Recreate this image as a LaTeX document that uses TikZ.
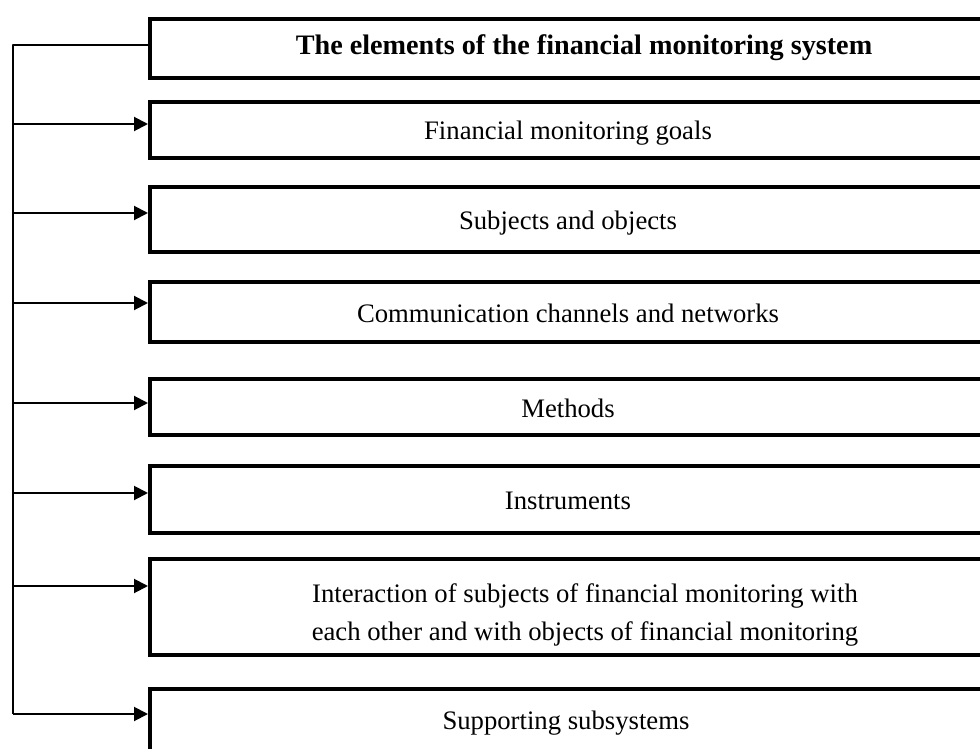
\documentclass[tikz,border=0pt]{standalone}
\usepackage{fontspec}
\setmainfont{Liberation Serif}
\usetikzlibrary{arrows.meta}
\begin{document}
\begin{tikzpicture}[x=1pt,y=-1pt,
  elbox/.style={draw,line width=4pt,anchor=north west,minimum width=836pt,inner sep=0pt},
  lbl/.style={inner sep=0pt,anchor=base,align=center,font=\fontsize{26.7}{38}\selectfont},
  conn/.style={line width=2pt},
  arr/.style={line width=2pt,-{Triangle[length=14pt,width=14pt]}}]
\useasboundingbox (0,0) rectangle (980,749);
\clip (0,0) rectangle (980,749);
\node[elbox,minimum height=59pt] (b1) at (148,17) {};
\node[elbox,minimum height=56pt] (b2) at (148,100) {};
\node[elbox,minimum height=65pt] (b3) at (148,185) {};
\node[elbox,minimum height=60pt] (b4) at (148,280) {};
\node[elbox,minimum height=56pt] (b5) at (148,377) {};
\node[elbox,minimum height=67pt] (b6) at (148,464) {};
\node[elbox,minimum height=96pt] (b7) at (148,557) {};
\node[elbox,minimum height=70pt] (b8) at (148,687) {};
\node[lbl,font=\fontsize{28.2}{34}\selectfont\bfseries] (t1) at (584,55) {The elements of the financial monitoring system};
\node[lbl] (t2) at ([yshift=-10pt]b2.center) {Financial monitoring goals};
\node[lbl] (t3) at ([yshift=-10pt]b3.center) {Subjects and objects};
\node[lbl] (t4) at ([yshift=-10pt]b4.center) {Communication channels and networks};
\node[lbl] (t5) at ([yshift=-10pt]b5.center) {Methods};
\node[lbl] (t6) at ([yshift=-10pt]b6.center) {Instruments};
\node[lbl,anchor=center] (t7) at (585,614.5) {Interaction of subjects of financial monitoring with\\each other and with objects of financial monitoring};
\node[lbl] (t8) at (566,729) {Supporting subsystems};
\coordinate (s1) at (13,45);
\coordinate (s2) at (13,124);
\coordinate (s3) at (13,213);
\coordinate (s4) at (13,303);
\coordinate (s5) at (13,403);
\coordinate (s6) at (13,493);
\coordinate (s7) at (13,586);
\coordinate (s8) at (13,714);
\draw[conn,line join=round] (s1 -| b1.west) -- (s1) -- (s8);
\foreach \i in {2,...,8}{\draw[arr] (s\i) -- (s\i -| b\i.west);}
\end{tikzpicture}
\end{document}
